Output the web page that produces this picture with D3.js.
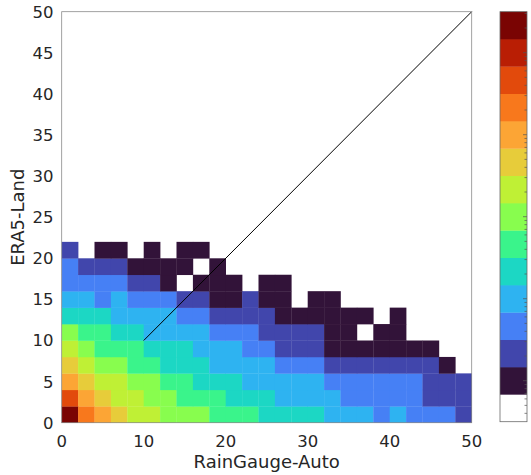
<!DOCTYPE html>
<html>
<head>
<meta charset="utf-8">
<script src="https://cdn.jsdelivr.net/npm/d3@7"></script>
<style>
  html, body { margin: 0; padding: 0; background: #fff; }
  svg { display: block; }
  text { font-family: "DejaVu Sans", sans-serif; fill: #262626; }
</style>
</head>
<body>
<div id="chart"></div>
<script>
// === data ===
// bins are 2 units wide on both axes
const binWidth = 2;
const xTicks = [0, 10, 20, 30, 40, 50];
const yTicks = [0, 5, 10, 15, 20, 25, 30, 35, 40, 45, 50];

// colour level per cell, rows from y=0 upward, columns from x=0 rightward
// 0 = lowest (white) ... 14 = highest (dark red)
const row0  = [14,11,10,9,8,8,7,7,7,6,6,6,5,5,5,5,4,4,4,3,4,3,3,3,2];
const row1  = [12,10,9,8,8,7,7,6,6,6,5,5,5,4,4,4,4,3,3,3,3,3,2,2,2];
const row2  = [10,9,8,8,7,7,6,6,5,5,5,4,4,4,4,4,3,3,3,3,3,3,2,2,2];
const row3  = [9,8,7,7,6,6,5,5,5,4,4,4,4,3,3,3,2,2,2,2,2,2,2,1,0];
const row4  = [8,7,6,6,6,5,5,5,4,4,4,3,3,2,2,2,1,1,1,1,1,1,1,0,0];
const row5  = [7,6,6,5,5,4,4,4,4,3,3,3,2,2,2,2,1,1,0,1,1,0,0,0,0];
const row6  = [5,5,5,4,4,4,4,3,3,2,2,2,2,1,1,1,1,1,1,0,1,0,0,0,0];
const row7  = [4,4,3,4,3,3,3,2,2,1,1,2,1,1,0,1,1,0,0,0,0,0,0,0,0];
const row8  = [3,3,3,3,2,2,1,0,1,1,1,0,1,1,0,0,0,0,0,0,0,0,0,0,0];
const row9  = [3,2,2,2,1,1,1,1,0,1,0,0,0,0,0,0,0,0,0,0,0,0,0,0,0];
const row10 = [2,0,1,1,0,1,0,1,1,0,0,0,0,0,0,0,0,0,0,0,0,0,0,0,0];
const levelRows = [row0, row1, row2, row3, row4, row5, row6, row7, row8, row9, row10];

const levelColors = [
  "#ffffff", "#321339", "#4146ac", "#4680f5", "#2eb3f1", "#1cd7c4",
  "#3af48b", "#88fd4e", "#bff035", "#e7cc3a", "#fca535", "#f8781c",
  "#e24a0c", "#b91e04", "#7a0403"
];

// colorbar on a log axis, 3 levels per decade
const cbDomain = [Math.pow(10, -0.5), Math.pow(10, 4.5)];

// === layout ===
const W = 531, H = 475;
const plot = { left: 61.7, right: 471.7, top: 11.7, bottom: 422.7 };
const cb = { left: 500, right: 527, top: 11.7, bottom: 421.7 };

const svg = d3.select("#chart").append("svg")
  .attr("width", W)
  .attr("height", H);

const x = d3.scaleLinear().domain([0, 50]).range([plot.left, plot.right]);
const y = d3.scaleLinear().domain([0, 50]).range([plot.bottom, plot.top]);
const color = d3.scaleOrdinal().domain(d3.range(levelColors.length)).range(levelColors);

// === cells ===
const cells = [];
levelRows.forEach((row, r) => {
  row.forEach((lev, c) => {
    if (lev > 0) cells.push({ x0: c * binWidth, y0: r * binWidth, lev });
  });
});

svg.append("g")
  .selectAll("rect")
  .data(cells)
  .join("rect")
  .attr("x", d => x(d.x0))
  .attr("y", d => y(d.y0 + binWidth))
  .attr("width", d => x(d.x0 + binWidth) - x(d.x0) + 0.3)
  .attr("height", d => y(d.y0) - y(d.y0 + binWidth) + 0.3)
  .attr("fill", d => color(d.lev));

// === 1:1 line from (10,10) ===
svg.append("line")
  .attr("x1", x(10)).attr("y1", y(10))
  .attr("x2", x(50)).attr("y2", y(50))
  .attr("stroke", "#000")
  .attr("stroke-width", 1);

// === axes box ===
svg.append("rect")
  .attr("x", plot.left).attr("y", plot.top)
  .attr("width", plot.right - plot.left)
  .attr("height", plot.bottom - plot.top)
  .attr("fill", "none")
  .attr("stroke", "#8a8a8a")
  .attr("stroke-width", 0.8);

// tick labels
svg.append("g")
  .selectAll("text")
  .data(xTicks)
  .join("text")
  .attr("x", d => x(d))
  .attr("y", 447)
  .attr("text-anchor", "middle")
  .style("font-size", "16.5px")
  .text(d => d);

svg.append("g")
  .selectAll("text")
  .data(yTicks)
  .join("text")
  .attr("x", 53.5)
  .attr("y", d => y(d))
  .attr("dy", "0.36em")
  .attr("text-anchor", "end")
  .style("font-size", "16.5px")
  .text(d => d);

// axis labels
svg.append("text")
  .attr("x", (plot.left + plot.right) / 2)
  .attr("y", 468)
  .attr("text-anchor", "middle")
  .style("font-size", "18px")
  .text("RainGauge-Auto");

svg.append("text")
  .attr("transform", `translate(24,${(plot.top + plot.bottom) / 2}) rotate(-90)`)
  .attr("text-anchor", "middle")
  .style("font-size", "18px")
  .text("ERA5-Land");

// === colorbar ===
const cbY = d3.scaleLog().domain(cbDomain).range([cb.bottom, cb.top]);
const decades = Math.log10(cbDomain[1] / cbDomain[0]);
const perLevel = decades / levelColors.length;
const cbLevels = levelColors.map((c, i) => ({
  lo: cbDomain[0] * Math.pow(10, i * perLevel),
  hi: cbDomain[0] * Math.pow(10, (i + 1) * perLevel),
  c
}));

svg.append("g")
  .selectAll("rect")
  .data(cbLevels)
  .join("rect")
  .attr("x", cb.left)
  .attr("y", d => cbY(d.hi))
  .attr("width", cb.right - cb.left)
  .attr("height", d => cbY(d.lo) - cbY(d.hi) + 0.3)
  .attr("fill", d => d.c);

const cbTicks = cbY.ticks();
svg.append("g")
  .selectAll("line")
  .data(cbTicks)
  .join("line")
  .attr("x1", d => cb.right - (Math.abs(Math.log10(d) - Math.round(Math.log10(d))) < 1e-9 ? 4 : 2.5))
  .attr("x2", cb.right)
  .attr("y1", d => cbY(d))
  .attr("y2", d => cbY(d))
  .attr("stroke", "#555")
  .attr("stroke-width", 0.7);

svg.append("rect")
  .attr("x", cb.left).attr("y", cb.top)
  .attr("width", cb.right - cb.left)
  .attr("height", cb.bottom - cb.top)
  .attr("fill", "none")
  .attr("stroke", "#6a6a6a")
  .attr("stroke-width", 0.8);
</script>
</body>
</html>
